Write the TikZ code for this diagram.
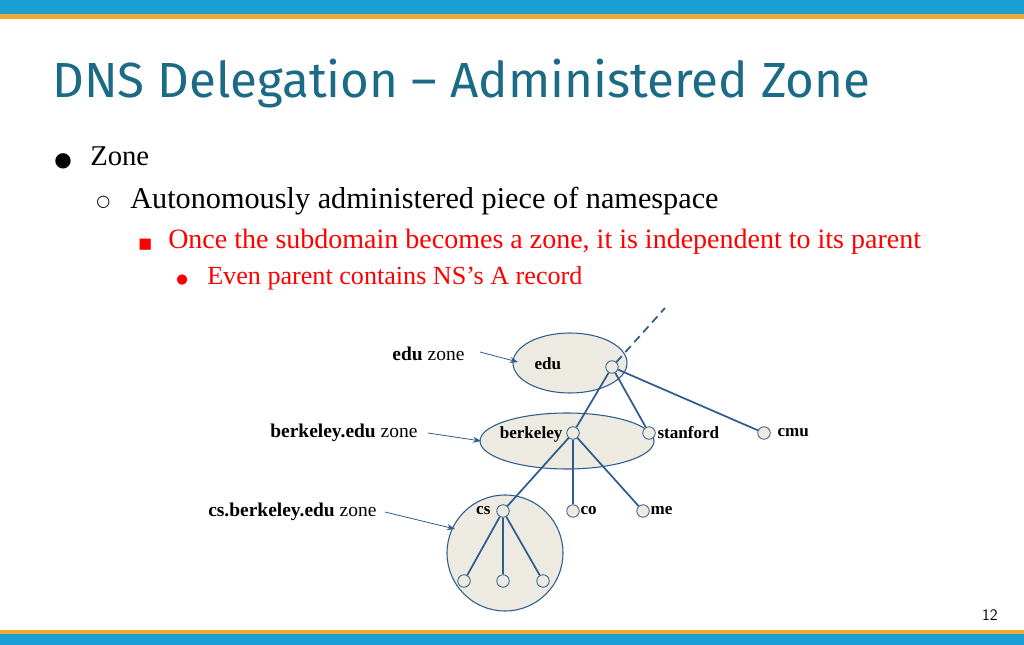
\documentclass[tikz,border=0pt]{standalone}
\usepackage{fontspec}
\setmainfont{Liberation Serif}
\newfontfamily\titlefont{Fira Sans}
\newfontfamily\symfont{DejaVu Sans}
\usetikzlibrary{arrows.meta}
\definecolor{barblue}{HTML}{1A9ED6}
\definecolor{barorange}{HTML}{F0A830}
\definecolor{titlecol}{HTML}{1B6B86}
\definecolor{linecol}{HTML}{2F5C8C}
\definecolor{fillc}{HTML}{EDEAE2}
\begin{document}
\begin{tikzpicture}[x=0.75pt,y=-0.75pt,
  zone/.style={draw=linecol,fill=fillc,line width=0.8pt},
  dot/.style={circle,draw=linecol,fill=fillc,line width=0.6pt,minimum size=12.5*0.75pt,inner sep=0pt},
  edge/.style={draw=linecol,line width=1.3pt},
  lbl/.style={font=\fontsize{12.8}{14}\selectfont\bfseries,inner sep=1pt},
  zl/.style={font=\fontsize{14.6}{16}\selectfont,inner sep=1pt},
  pt/.style={-{Stealth[length=6pt,width=4.5pt]},draw=linecol,line width=0.6pt}]
\useasboundingbox (0,0) rectangle (1024,645);
\fill[barblue] (0,0) rectangle (1024,14);
\fill[barorange] (0,14) rectangle (1024,19);
\fill[barorange] (0,630) rectangle (1024,634);
\fill[barblue] (0,634) rectangle (1024,645);
\node[anchor=base west,text=titlecol,font=\titlefont\fontsize{37}{40}\selectfont,inner sep=0] (title) at (52,98) {DNS Delegation – Administered Zone};
\node[anchor=base west,font=\symfont\fontsize{15}{16}\selectfont,inner sep=0] (b1) at (54,167) {●};
\node[anchor=base west,font=\fontsize{21.5}{24}\selectfont,inner sep=0] (t1) at (90,166) {Zone};
\node[anchor=base west,font=\symfont\fontsize{12}{16}\selectfont,inner sep=0] (b2) at (96,207) {○};
\node[anchor=base west,font=\fontsize{22.7}{24}\selectfont,inner sep=0] (t2) at (130,209) {Autonomously administered piece of namespace};
\node[anchor=base west,text=red,font=\symfont\fontsize{11}{16}\selectfont,inner sep=0] (b3) at (138,248) {■};
\node[anchor=base west,text=red,font=\fontsize{21}{22}\selectfont,inner sep=0] (t3) at (168,248) {Once the subdomain becomes a zone, it is independent to its parent};
\node[anchor=base west,text=red,font=\symfont\fontsize{10}{16}\selectfont,inner sep=0] (b4) at (176,284) {●};
\node[anchor=base west,text=red,font=\fontsize{19.6}{22}\selectfont,inner sep=0] (t4) at (207,285) {Even parent contains NS’s A record};
% zones
\draw[zone] (570,363) ellipse [x radius=57,y radius=30];
\draw[zone] (567,441) ellipse [x radius=87,y radius=28];
\draw[zone] (505,553) circle [radius=58];
\coordinate (top) at (665,308);
\node[dot] (edu) at (612,367) {};
\node[dot] (berk) at (573,433) {};
\node[dot] (stan) at (649,433) {};
\node[dot] (cmu) at (764,433) {};
\node[dot] (cs) at (503,511) {};
\node[dot] (co) at (573,511) {};
\node[dot] (me) at (643,511) {};
\node[dot] (l1) at (464,581) {};
\node[dot] (l2) at (503,581) {};
\node[dot] (l3) at (543,581) {};
\draw[edge,dash pattern=on 6pt off 4pt] (edu) -- (top);
\draw[edge] (edu) -- (berk); \draw[edge] (edu) -- (stan); \draw[edge] (edu) -- (cmu);
\draw[edge] (berk) -- (cs); \draw[edge] (berk) -- (co); \draw[edge] (berk) -- (me);
\draw[edge] (cs) -- (l1); \draw[edge] (cs) -- (l2); \draw[edge] (cs) -- (l3);
\node[lbl,anchor=west] (ledu) at (533,364) {edu};
\node[lbl,anchor=east] (lberk) at (564,434) {berkeley};
\node[lbl,anchor=west] (lstan) at (656,433) {stanford};
\node[lbl,anchor=west] (lcmu) at (776,433) {cmu};
\node[lbl,anchor=east] (lcs) at (492,511) {cs};
\node[lbl,anchor=west] (lco) at (579,511) {co};
\node[lbl,anchor=west] (lme) at (649,511) {me};
\node[zl,anchor=east] (zedu) at (466,354) {\textbf{edu} zone};
\node[zl,anchor=east] (zberk) at (419,433) {\textbf{berkeley.edu} zone};
\node[zl,anchor=east] (zcs) at (378,512) {\textbf{cs.berkeley.edu} zone};
\coordinate (aedu) at (518,362);
\coordinate (aberk) at (481,441);
\coordinate (acs) at (455,529);
\draw[pt] (zedu.east) ++(14,-2) -- (aedu);
\draw[pt] (zberk.east) ++(9,0) -- (aberk);
\draw[pt] (zcs.east) ++(7,0) -- (acs);
\node[anchor=base east,font=\sffamily\fontsize{12}{14}\selectfont,inner sep=0] (pg) at (998,620) {12};
\end{tikzpicture}
\end{document}
